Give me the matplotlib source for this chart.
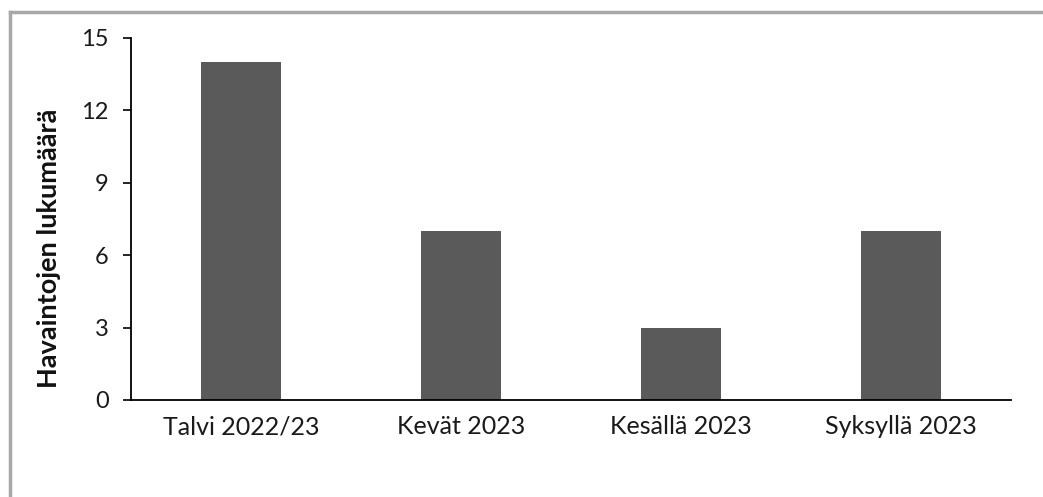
import matplotlib
matplotlib.use("Agg")
import matplotlib.pyplot as plt
from matplotlib.lines import Line2D

categories = ["Talvi 2022/23", "Kevät 2023", "Kesällä 2023", "Syksyllä 2023"]
counts = [14, 7, 3, 7]
y_ticks = [0, 3, 6, 9, 12, 15]
y_label = "Havaintojen lukumäärä"

plt.rcParams["font.family"] = ["Lato", "DejaVu Sans"]

fig = plt.figure(figsize=(10.43, 4.97), dpi=100)
ax = fig.add_axes([131 / 1043, 1 - 400 / 497, 880 / 1043, 362 / 497])

x = range(len(categories))
ax.bar(x, counts, width=0.36, color="#5a5a5a")

ax.set_xlim(-0.5, len(categories) - 0.5)
ax.set_ylim(0, 15)
ax.set_yticks(y_ticks)
ax.set_xticks(list(x))
ax.set_xticklabels(categories, fontsize=18, color="#1a1a1a")
ax.tick_params(axis="x", length=0, pad=11)
ax.tick_params(axis="y", length=6, width=1.2, labelsize=17, pad=10, labelcolor="#1a1a1a")

for side in ("top", "right"):
    ax.spines[side].set_visible(False)
for side in ("left", "bottom"):
    ax.spines[side].set_linewidth(1.3)
    ax.spines[side].set_color("black")

ax.set_ylabel(y_label, fontsize=19.5, fontweight="bold", color="#111111")
ax.yaxis.set_label_coords(-0.079, 0.42)

# Outer frame (left and top edges)
fig.add_artist(Line2D([10 / 1043, 10 / 1043], [0, 1 - 12 / 497],
                      transform=fig.transFigure, color="#a8a8a8", lw=2.5))
fig.add_artist(Line2D([10 / 1043, 1], [1 - 12 / 497, 1 - 12 / 497],
                      transform=fig.transFigure, color="#a8a8a8", lw=2.5))

fig.savefig("out.png", dpi=100)
